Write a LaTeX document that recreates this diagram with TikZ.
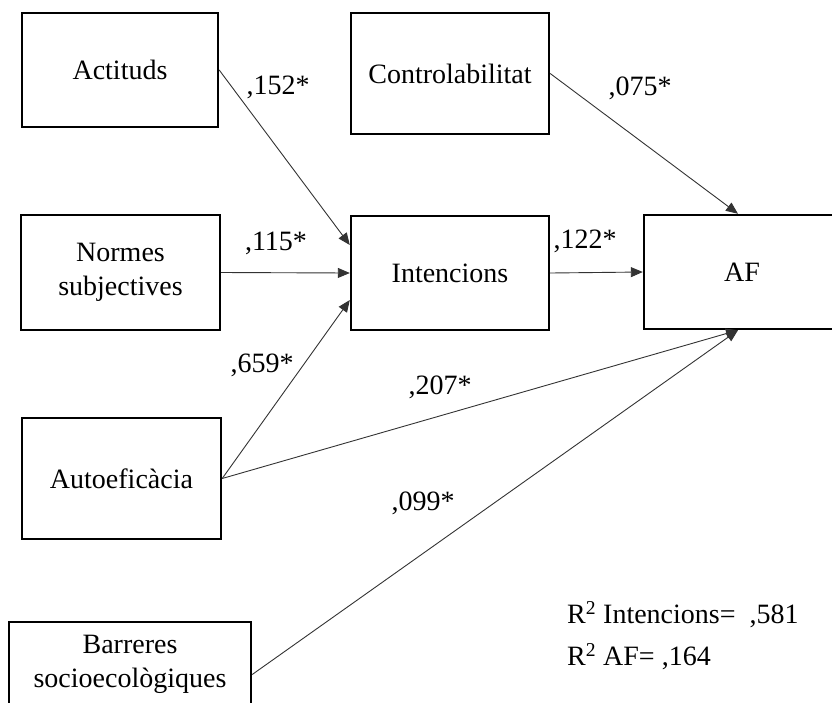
\documentclass[tikz,border=0pt]{standalone}
\usepackage{fontspec}
\setmainfont{Liberation Serif}
\usetikzlibrary{arrows.meta}
\begin{document}
\begin{tikzpicture}[x=1pt,y=-1pt,
  box/.style={draw=black,line width=2.4pt,align=center,inner sep=0pt,
    font=\fontsize{28}{34}\selectfont},
  lbl/.style={inner sep=0pt,font=\fontsize{28}{34}\selectfont},
  arr/.style={draw=black!80,line width=0.9pt,-{Triangle[length=12pt,width=10pt]}}]
\useasboundingbox (0,0) rectangle (832,702);
\node[box,minimum width=196pt,minimum height=114pt] (act) at (120,70) {Actituds};
\node[box,minimum width=198pt,minimum height=121pt] (ctrl) at (450,73.5) {Controlabilitat};
\node[box,minimum width=199pt,minimum height=115pt] (norm) at (120.5,272.5) {Normes\\subjectives};
\node[box,minimum width=198pt,minimum height=114pt] (int) at (450,273) {Intencions};
\node[box,minimum width=196pt,minimum height=114pt] (af) at (742,272) {AF};
\node[box,minimum width=199pt,minimum height=121pt] (auto) at (121.5,478.5) {Autoefic\`acia};
\node[box,minimum width=242pt,minimum height=85pt] (bar) at (130,664.5) {Barreres\\socioecol\`ogiques};

\draw[arr] (act.east) -- ([yshift=28pt]int.west);
\draw[arr] (norm.east) -- (int.west);
\draw[arr] (auto.east) -- ([yshift=-27pt]int.west);
\draw[arr] (ctrl.east) -- ([xshift=-4pt]af.north);
\draw[arr] (int.east) -- (af.west);
\draw[arr] (auto.east) -- ([xshift=-4pt]af.south);
\draw[arr] ([yshift=-10pt]bar.east) -- ([xshift=-4pt]af.south);

\node[lbl] (l1) at (278,87) {,152*};
\node[lbl] (l2) at (276,243) {,115*};
\node[lbl] (l3) at (262,365) {,659*};
\node[lbl] (l4) at (440,387) {,207*};
\node[lbl] (l5) at (423,503) {,099*};
\node[lbl] (l6) at (640,88) {,075*};
\node[lbl] (l7) at (585,241) {,122*};
\node[lbl,anchor=west] (r1) at (567,615) {R\textsuperscript{2} Intencions=\ \ ,581};
\node[lbl,anchor=west] (r2) at (567,657) {R\textsuperscript{2} AF= ,164};
\end{tikzpicture}
\end{document}
